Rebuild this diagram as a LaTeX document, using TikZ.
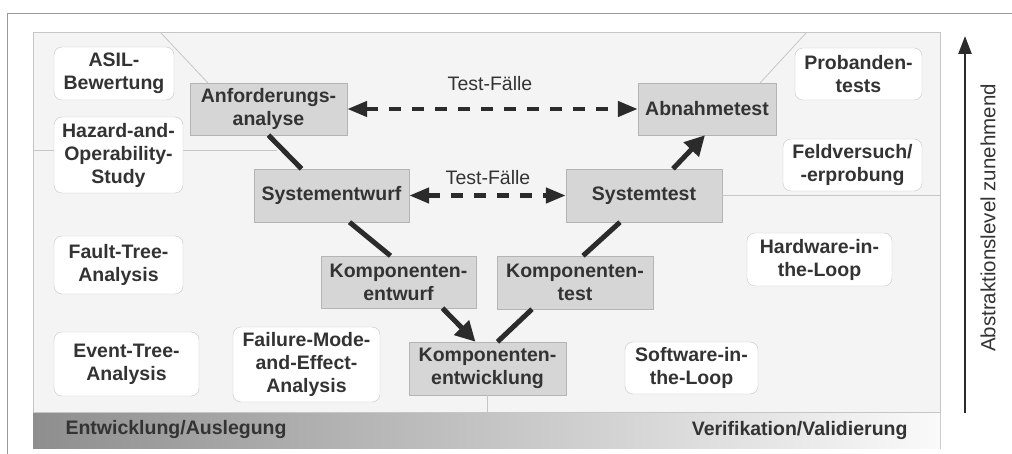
\documentclass[tikz,border=0pt]{standalone}
\usepackage{fontspec}
\setmainfont{Liberation Sans}
\usetikzlibrary{arrows.meta,calc}
\definecolor{panel}{HTML}{F4F4F4}
\definecolor{frame}{HTML}{C6C6C6}
\definecolor{outer}{HTML}{9A9A9A}
\definecolor{boxgray}{HTML}{D6D6D6}
\definecolor{boxline}{HTML}{B4B4B4}
\definecolor{ink}{HTML}{333333}
\definecolor{arrowink}{HTML}{2B2B2B}
\definecolor{bandleft}{HTML}{8E8E8E}
\definecolor{bandright}{HTML}{FAFAFA}
\begin{document}
\begin{tikzpicture}[x=1pt,y=-1pt,
        boxfont/.style={font=\fontsize{19.5}{23}\selectfont\bfseries,text=ink},
        phase/.style={boxfont,draw=boxline,fill=boxgray,inner sep=0pt,align=center},
        method/.style={boxfont,draw=frame,fill=white,rounded corners=8pt,inner sep=0pt,align=center},
        vline/.style={draw=arrowink,line width=5pt},
        vtip/.style={vline,-{Triangle[length=20pt,width=20pt]}},
        tcase/.style={draw=arrowink,line width=4.5pt,dash pattern=on 12pt off 11pt,
          {Triangle[length=20pt,width=15pt]}-{Triangle[length=20pt,width=15pt]}},
        divider/.style={draw=frame,line width=0.8pt}]
        \useasboundingbox (0,0) rectangle (1012,454);
        \draw[draw=outer,line width=1pt] (7,454) -- (7,14) -- (1012,14);
        \draw[divider,fill=panel] (33,32) rectangle (940,448);
        \shade[left color=bandleft,right color=bandright] (33,412) rectangle (940,448);
        \draw[divider] (33,412) -- (940,412);
        \draw[divider] (33,150) -- (277,150);

        \node[phase,minimum width=157pt,minimum height=52pt] (AN) at (268.5,109) {Anforderungs-\\analyse};
        \node[phase,minimum width=138pt,minimum height=52pt] (AB) at (707,109) {Abnahmetest};
        \node[phase,minimum width=155pt,minimum height=53pt] (SE) at (331.5,195.5) {Systementwurf};
        \node[phase,minimum width=156pt,minimum height=53pt] (ST) at (644,195.5) {Systemtest};
        \node[phase,minimum width=155pt,minimum height=52pt] (KE) at (398.5,282) {Komponenten-\\entwurf};
        \node[phase,minimum width=156pt,minimum height=53pt] (KT) at (575,282.5) {Komponenten-\\test};
        \node[phase,minimum width=157pt,minimum height=53pt] (KW) at (487.5,368.5) {Komponenten-\\entwicklung};

        \node[method,minimum width=120pt,minimum height=53pt] (AS) at (114,73.5) {ASIL-\\Bewertung};
        \node[method,minimum width=129pt,minimum height=76pt] (HZ) at (118.5,155) {Hazard-and-\\Operability-\\Study};
        \node[method,minimum width=129pt,minimum height=58pt] (FT) at (118.5,265) {Fault-Tree-\\Analysis};
        \node[method,minimum width=145pt,minimum height=64pt] (ET) at (126.5,364) {Event-Tree-\\Analysis};
        \node[method,minimum width=147pt,minimum height=75pt] (FM) at (306.5,364.5) {Failure-Mode-\\and-Effect-\\Analysis};
        \node[method,minimum width=127pt,minimum height=52pt] (PT) at (858.5,74) {Probanden-\\tests};
        \node[method,minimum width=139pt,minimum height=52pt] (FV) at (852.5,165) {Feldversuch/\\-erprobung};
        \node[method,minimum width=145pt,minimum height=53pt] (HL) at (819.5,259.5) {Hardware-in-\\the-Loop};
        \node[method,minimum width=133pt,minimum height=52pt] (SL) at (691.5,368) {Software-in-\\the-Loop};

        \draw[divider] (160,32) -- ($(AN.north west)+(18,0)$);
        \draw[divider] (807,32) -- ($(AB.north east)+(-16,0)$);
        \draw[divider] (ST.east) -- (940,195.5);
        \draw[divider] (KW.south) -- (KW.south |- 0,412);

        \draw[vline] (AN.south) -- ($(SE.north)+(-30,0)$);
        \draw[vline] ($(SE.south)+(18,0)$) -- ($(KE.north)+(-8,0)$);
        \draw[vtip] ($(KE.south)+(44,0)$) -- ($(KW.north)+(-12,0)$);
        \draw[vline] ($(KW.north)+(10,0)$) -- ($(KT.south)+(-43,0)$);
        \draw[vline] ($(KT.north)+(8,0)$) -- ($(ST.south)+(-24,0)$);
        \draw[vtip] ($(ST.north)+(29,0)$) -- ($(AB.south)+(-2,0)$);

        \draw[tcase] (AN.east) -- (AB.west);
        \draw[tcase] (SE.east) -- (ST.west);
        \node[text=ink,font=\fontsize{19.5}{23}\selectfont] (T1) at (490,84) {Test-Fälle};
        \node[text=ink,font=\fontsize{19.5}{23}\selectfont] (T2) at (488,178) {Test-Fälle};

        \node[boxfont,anchor=west,text=black!80] (EA) at (62,430) {Entwicklung/Auslegung};
        \node[boxfont,anchor=east,text=black!80] (VV) at (911,431) {Verifikation/Validierung};

        \coordinate (LO) at (965,413);
        \coordinate (HI) at (965,36);
        \draw[draw=arrowink,line width=2.5pt,-{Triangle[length=18pt,width=13pt]}] (LO) -- (HI);
        \node[rotate=90,text=ink,font=\fontsize{20.5}{24}\selectfont] (LV) at (988,218) {Abstraktionslevel zunehmend};
\end{tikzpicture}
\end{document}
